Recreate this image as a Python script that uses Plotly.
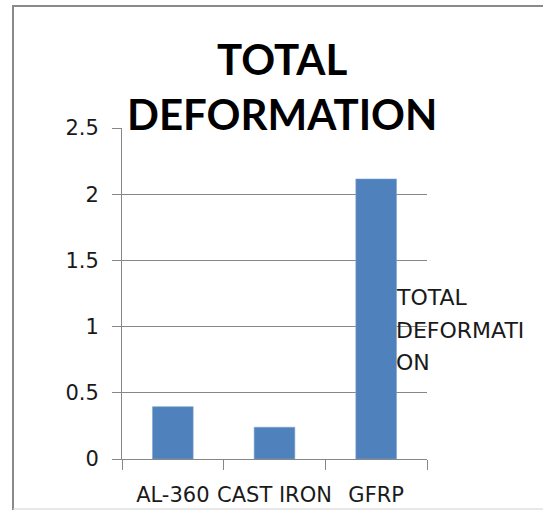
import plotly.graph_objects as go

categories = ["AL-360", "CAST IRON", "GFRP"]
total_deformation = [0.395, 0.24, 2.115]
y_ticks = [0, 0.5, 1, 1.5, 2, 2.5]
y_tick_labels = ["0", "0.5", "1", "1.5", "2", "2.5"]
series_name = "TOTAL DEFORMATION"
title_lines = ["TOTAL", "DEFORMATION"]
legend_lines = ["TOTAL", "DEFORMATI", "ON"]

W, H = 543, 510
L, R, T, B = 122, 427, 128, 459  # plot area in pixels

def px(x):
    return (x - L) / (R - L)

def py(y):
    return (B - y) / (B - T)

TITLE_FONT = "Lato, 'Open Sans', sans-serif"
FONT = "'DejaVu Sans', sans-serif"
GRID = "#878787"
TXT = "#1a1a1a"

fig = go.Figure()
fig.add_trace(go.Bar(
    x=categories, y=total_deformation, name=series_name,
    marker=dict(color="#4F81BD", line=dict(color="#7FA3CF", width=0.6)),
    showlegend=False,
))

fig.update_layout(
    width=W, height=H,
    margin=dict(l=L, r=W - R, t=T, b=H - B, pad=0, autoexpand=False),
    paper_bgcolor="white", plot_bgcolor="white",
    bargap=0.6,
    font=dict(family=FONT, size=21, color=TXT),
)
fig.update_xaxes(
    type="category", showgrid=False, showline=True, linecolor=GRID, linewidth=1,
    ticks="outside", tickson="boundaries", ticklen=10, tickcolor=GRID,
    ticklabelstandoff=17, tickangle=0, automargin=False,
    tickfont=dict(family=FONT, size=21, color=TXT),
)
fig.update_yaxes(
    range=[0, 2.5], tickvals=y_ticks, ticktext=y_tick_labels,
    showgrid=True, gridcolor=GRID, gridwidth=1,
    showline=True, linecolor=GRID, linewidth=1,
    ticks="outside", ticklen=9, tickcolor=GRID, automargin=False,
    ticklabelstandoff=9,
    tickfont=dict(family=FONT, size=21, color=TXT), zeroline=False,
)

# title
title_y = [59, 114]
for line, yy in zip(title_lines, title_y):
    fig.add_annotation(
        text=f"<b>{line}</b>", x=px(282), y=py(yy), xref="paper", yref="paper",
        xanchor="center", yanchor="middle", showarrow=False,
        font=dict(family=TITLE_FONT, size=42, color="black"),
    )

# legend-like text
leg_y = [297, 330, 362]
for line, yy in zip(legend_lines, leg_y):
    fig.add_annotation(
        text=line, x=px(394), y=py(yy), xref="paper", yref="paper",
        xanchor="left", yanchor="middle", showarrow=False,
        font=dict(family=FONT, size=22, color=TXT),
    )

# chart frame
fig.add_shape(type="line", xref="paper", yref="paper",
              x0=px(13), x1=px(13), y0=py(6), y1=py(510),
              line=dict(color="#8a8a8a", width=2))
fig.add_shape(type="line", xref="paper", yref="paper",
              x0=px(12), x1=px(543), y0=py(6), y1=py(6),
              line=dict(color="#8a8a8a", width=2))
fig.add_shape(type="line", xref="paper", yref="paper",
              x0=px(13), x1=px(543), y0=py(509), y1=py(509),
              line=dict(color="#d0d0d0", width=1))

fig.write_html("out.html", config={"displayModeBar": False},
               post_script="document.body.style.margin='0';")
